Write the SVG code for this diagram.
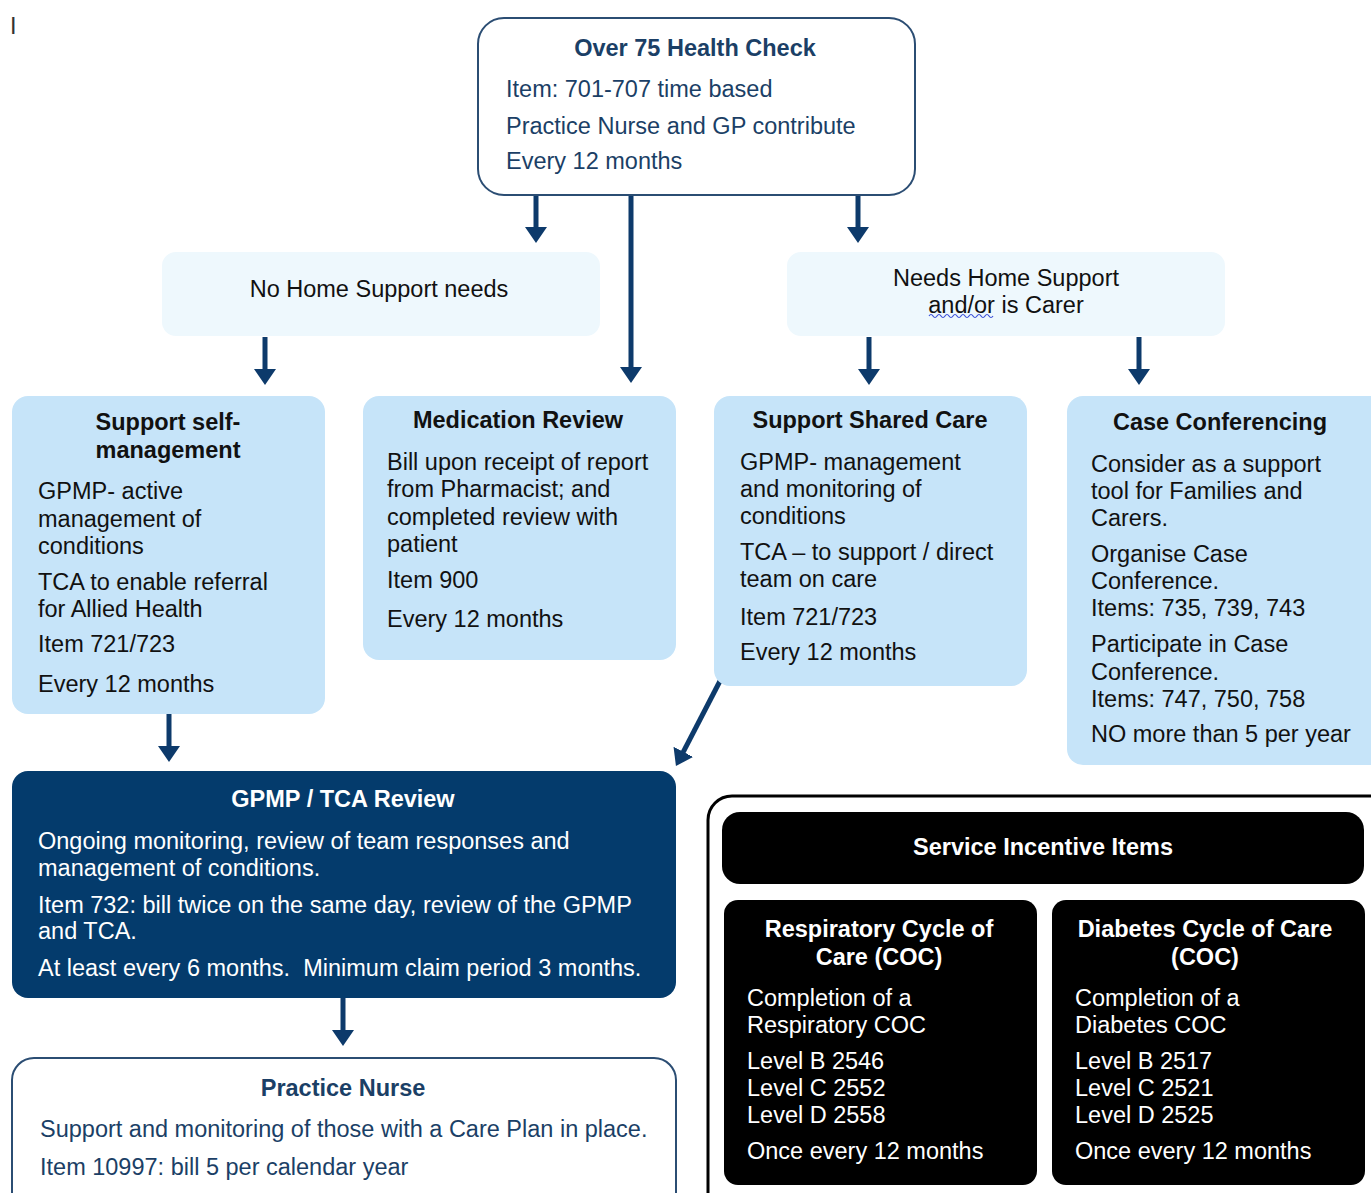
<svg xmlns="http://www.w3.org/2000/svg" width="1371" height="1193" viewBox="0 0 1371 1193">
<style>
text{font-family:"Liberation Sans",Arial,sans-serif;font-size:23.5px}
.t{font-weight:bold;text-anchor:middle}
.nv{fill:#1b3f66}
.bk{fill:#111}
.wh{fill:#fff}
.light{fill:#eef8fd}
.med{fill:#c6e4f9}
.wbox{fill:#fff;stroke:#2b4d73;stroke-width:2}
.blk{fill:#000}
.arr{stroke:#0d3a6b;stroke-width:5;fill:none;marker-end:url(#ah)}
</style>
<defs>
<marker id="ah" markerUnits="userSpaceOnUse" viewBox="0 -11 16 22" refX="2" refY="0" markerWidth="16" markerHeight="22" orient="auto">
<path d="M0,-11 L16,0 L0,11 z" fill="#0d3a6b"/>
</marker>
</defs>
<rect width="1371" height="1193" fill="#fff"/>
<text x="10" y="34" fill="#333" font-size="24">I</text>

<g id="connectors">
<line class="arr" x1="536" y1="195" x2="536" y2="229"/>
<line class="arr" x1="631" y1="195" x2="631" y2="369"/>
<line class="arr" x1="858" y1="195" x2="858" y2="229"/>
<line class="arr" x1="265" y1="337" x2="265" y2="371"/>
<line class="arr" x1="869" y1="337" x2="869" y2="371"/>
<line class="arr" x1="1139" y1="337" x2="1139" y2="371"/>
<line class="arr" x1="169" y1="714" x2="169" y2="748"/>
<line class="arr" x1="720" y1="681" x2="682.4" y2="753.6"/>
<line class="arr" x1="343" y1="998" x2="343" y2="1032"/>
</g>

<g id="over75">
<rect class="wbox" x="478" y="18" width="437" height="177" rx="26"/>
<text class="t nv" x="695" y="56">Over 75 Health Check</text>
<text class="nv" x="506" y="97">Item: 701-707 time based</text>
<text class="nv" x="506" y="134">Practice Nurse and GP contribute</text>
<text class="nv" x="506" y="169">Every 12 months</text>
</g>

<g id="noHome">
<rect class="light" x="162" y="252" width="438" height="84" rx="14"/>
<text class="bk" x="379" y="297" text-anchor="middle">No Home Support needs</text>
</g>

<g id="needsHome">
<rect class="light" x="787" y="252" width="438" height="84" rx="14"/>
<text class="bk" x="1006" y="286" text-anchor="middle">Needs Home Support</text>
<text class="bk" x="1006" y="313" text-anchor="middle">and/or is Carer</text>
<path d="M929,316 q2,-3 4,0 t4,0 t4,0 t4,0 t4,0 t4,0 t4,0 t4,0 t4,0 t4,0 t4,0 t4,0 t4,0 t4,0 t4,0 t4,0" fill="none" stroke="#3b4fd8" stroke-width="1.2"/>
</g>

<g id="selfMgmt">
<rect class="med" x="12" y="396" width="313" height="318" rx="16"/>
<text class="t bk" x="168" y="430">Support self-</text>
<text class="t bk" x="168" y="458">management</text>
<text class="bk" x="38" y="499">GPMP- active</text>
<text class="bk" x="38" y="527">management of</text>
<text class="bk" x="38" y="554">conditions</text>
<text class="bk" x="38" y="590">TCA to enable referral</text>
<text class="bk" x="38" y="617">for Allied Health</text>
<text class="bk" x="38" y="652">Item 721/723</text>
<text class="bk" x="38" y="692">Every 12 months</text>
</g>

<g id="medReview">
<rect class="med" x="363" y="396" width="313" height="264" rx="16"/>
<text class="t bk" x="518" y="428">Medication Review</text>
<text class="bk" x="387" y="470">Bill upon receipt of report</text>
<text class="bk" x="387" y="497">from Pharmacist; and</text>
<text class="bk" x="387" y="525">completed review with</text>
<text class="bk" x="387" y="552">patient</text>
<text class="bk" x="387" y="588">Item 900</text>
<text class="bk" x="387" y="627">Every 12 months</text>
</g>

<g id="sharedCare">
<rect class="med" x="714" y="396" width="313" height="290" rx="16"/>
<text class="t bk" x="870" y="428">Support Shared Care</text>
<text class="bk" x="740" y="470">GPMP- management</text>
<text class="bk" x="740" y="497">and monitoring of</text>
<text class="bk" x="740" y="524">conditions</text>
<text class="bk" x="740" y="560">TCA – to support / direct</text>
<text class="bk" x="740" y="587">team on care</text>
<text class="bk" x="740" y="625">Item 721/723</text>
<text class="bk" x="740" y="660">Every 12 months</text>
</g>

<g id="caseConf">
<rect class="med" x="1067" y="396" width="320" height="369" rx="16"/>
<text class="t bk" x="1220" y="430">Case Conferencing</text>
<text class="bk" x="1091" y="472">Consider as a support</text>
<text class="bk" x="1091" y="499">tool for Families and</text>
<text class="bk" x="1091" y="526">Carers.</text>
<text class="bk" x="1091" y="562">Organise Case</text>
<text class="bk" x="1091" y="589">Conference.</text>
<text class="bk" x="1091" y="616">Items: 735, 739, 743</text>
<text class="bk" x="1091" y="652">Participate in Case</text>
<text class="bk" x="1091" y="680">Conference.</text>
<text class="bk" x="1091" y="707">Items: 747, 750, 758</text>
<text class="bk" x="1091" y="742">NO more than 5 per year</text>
</g>

<g id="gpmpReview">
<rect x="12" y="771" width="664" height="227" rx="16" fill="#043b6c"/>
<text class="t wh" x="343" y="807">GPMP / TCA Review</text>
<text class="wh" x="38" y="849">Ongoing monitoring, review of team responses and</text>
<text class="wh" x="38" y="876">management of conditions.</text>
<text class="wh" x="38" y="913">Item 732: bill twice on the same day, review of the GPMP</text>
<text class="wh" x="38" y="939">and TCA.</text>
<text class="wh" x="38" y="976" xml:space="preserve">At least every 6 months.  Minimum claim period 3 months.</text>
</g>

<g id="practiceNurse">
<rect class="wbox" x="12" y="1058" width="664" height="160" rx="22"/>
<text class="t nv" x="343" y="1096">Practice Nurse</text>
<text class="nv" x="40" y="1137">Support and monitoring of those with a Care Plan in place.</text>
<text class="nv" x="40" y="1175">Item 10997: bill 5 per calendar year</text>
</g>

<g id="serviceIncentive">
<rect x="708" y="796" width="700" height="450" rx="24" fill="#fff" stroke="#000" stroke-width="3"/>
<rect class="blk" x="722" y="812" width="642" height="72" rx="18"/>
<text class="t wh" x="1043" y="855">Service Incentive Items</text>
</g>

<g id="respCOC">
<rect class="blk" x="724" y="900" width="313" height="285" rx="14"/>
<text class="t wh" x="879" y="937">Respiratory Cycle of</text>
<text class="t wh" x="879" y="965">Care (COC)</text>
<text class="wh" x="747" y="1006">Completion of a</text>
<text class="wh" x="747" y="1033">Respiratory COC</text>
<text class="wh" x="747" y="1069">Level B 2546</text>
<text class="wh" x="747" y="1096">Level C 2552</text>
<text class="wh" x="747" y="1123">Level D 2558</text>
<text class="wh" x="747" y="1159">Once every 12 months</text>
</g>

<g id="diabCOC">
<rect class="blk" x="1052" y="900" width="313" height="285" rx="14"/>
<text class="t wh" x="1205" y="937">Diabetes Cycle of Care</text>
<text class="t wh" x="1205" y="965">(COC)</text>
<text class="wh" x="1075" y="1006">Completion of a</text>
<text class="wh" x="1075" y="1033">Diabetes COC</text>
<text class="wh" x="1075" y="1069">Level B 2517</text>
<text class="wh" x="1075" y="1096">Level C 2521</text>
<text class="wh" x="1075" y="1123">Level D 2525</text>
<text class="wh" x="1075" y="1159">Once every 12 months</text>
</g>
</svg>
